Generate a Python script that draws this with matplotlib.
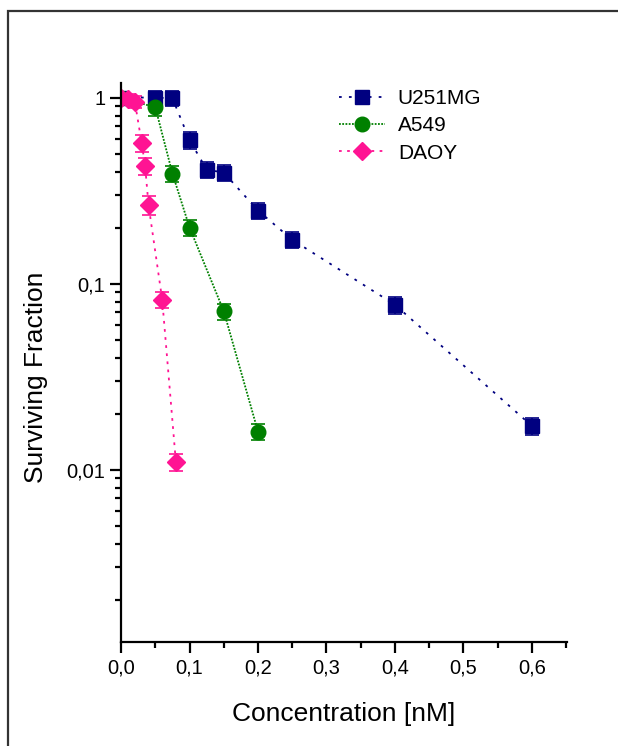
import numpy as np
import matplotlib.pyplot as plt
from matplotlib.lines import Line2D
from matplotlib.patches import Rectangle
from matplotlib.ticker import FixedLocator, FuncFormatter, LogLocator, MultipleLocator

plt.rcParams['font.family'] = ['Liberation Sans', 'DejaVu Sans']

# surviving fraction vs concentration for three cell lines
u251_x = [0.0, 0.05, 0.075, 0.1, 0.125, 0.15, 0.2, 0.25, 0.4, 0.6]
u251_y = [1.0, 1.0, 0.99, 0.59, 0.41, 0.395, 0.247, 0.172, 0.077, 0.0172]
u251_err = [0.05, 0.09, 0.09, 0.06, 0.04, 0.04, 0.025, 0.017, 0.008, 0.0018]

a549_x = [0.0, 0.05, 0.075, 0.1, 0.15, 0.2]
a549_y = [1.0, 0.885, 0.39, 0.2, 0.071, 0.016]
a549_err = [0.05, 0.09, 0.04, 0.02, 0.007, 0.0016]

daoy_x = [0.0, 0.01, 0.02, 0.03, 0.035, 0.04, 0.06, 0.08]
daoy_y = [1.0, 0.98, 0.95, 0.57, 0.43, 0.265, 0.082, 0.011]
daoy_err = [0.06, 0.07, 0.07, 0.06, 0.045, 0.03, 0.008, 0.0012]

fig = plt.figure(figsize=(6.18, 7.46), dpi=100)
ax = fig.add_axes([0.196, 0.139, 0.721, 0.75])

# outer frame (only top and left edges fall inside the canvas)
fig.patches.append(Rectangle((8 / 618, -0.1), 1.2, 1 - 11 / 746 + 0.1,
                             transform=fig.transFigure, fill=False,
                             edgecolor='#333333', linewidth=1.6))

series = [
    (u251_x, u251_y, u251_err, '#000080', 's', 9.5, (0, (1.5, 4)), 'U251MG'),
    (a549_x, a549_y, a549_err, '#008000', 'o', 10.5, (0, (1, 0.8)), 'A549'),
    (daoy_x, daoy_y, daoy_err, '#ff1493', 'D', 9.5, (0, (1.5, 3)), 'DAOY'),
]

handles = []
for xs, ys, err, col, mk, ms, ls, name in series:
    ax.errorbar(xs, ys, yerr=err, color=col, marker=mk, ms=ms, ls=ls, lw=1.3,
                capsize=5, elinewidth=1.2, capthick=1.2)
    handles.append(Line2D([], [], color=col, marker=mk, ms=ms, ls=ls, lw=1.3,
                          label=name))

ax.set_yscale('log')
ax.set_xlim(0, 0.651)
ax.set_ylim(0.00118, 1.2)

ax.xaxis.set_major_locator(MultipleLocator(0.1))
ax.xaxis.set_minor_locator(MultipleLocator(0.05))
ax.xaxis.set_major_formatter(FuncFormatter(lambda v, p: ('%.1f' % v).replace('.', ',')))
ax.yaxis.set_major_locator(FixedLocator([0.001, 0.01, 0.1, 1]))
ax.yaxis.set_minor_locator(LogLocator(base=10, subs=np.arange(2, 10)))
ax.yaxis.set_major_formatter(FuncFormatter(lambda v, p: ('%g' % v).replace('.', ',')))

for side in ['top', 'right']:
    ax.spines[side].set_visible(False)
for side in ['left', 'bottom']:
    ax.spines[side].set_linewidth(1.6)

ax.tick_params(which='major', direction='out', length=8, width=1.6, labelsize=14.5)
ax.tick_params(which='minor', direction='out', length=4.5, width=1.6)

ax.set_xlabel('Concentration [nM]', fontsize=19, labelpad=18)
ax.set_ylabel('Surviving Fraction', fontsize=19, labelpad=13, y=0.473)

ax.legend(handles=handles, loc='upper left', bbox_to_anchor=(0.49, 0.989),
          frameon=False, fontsize=15, handlelength=2.2, handletextpad=0.6,
          labelspacing=0.4, borderpad=0, borderaxespad=0)

fig.savefig('out.png', dpi=100)
